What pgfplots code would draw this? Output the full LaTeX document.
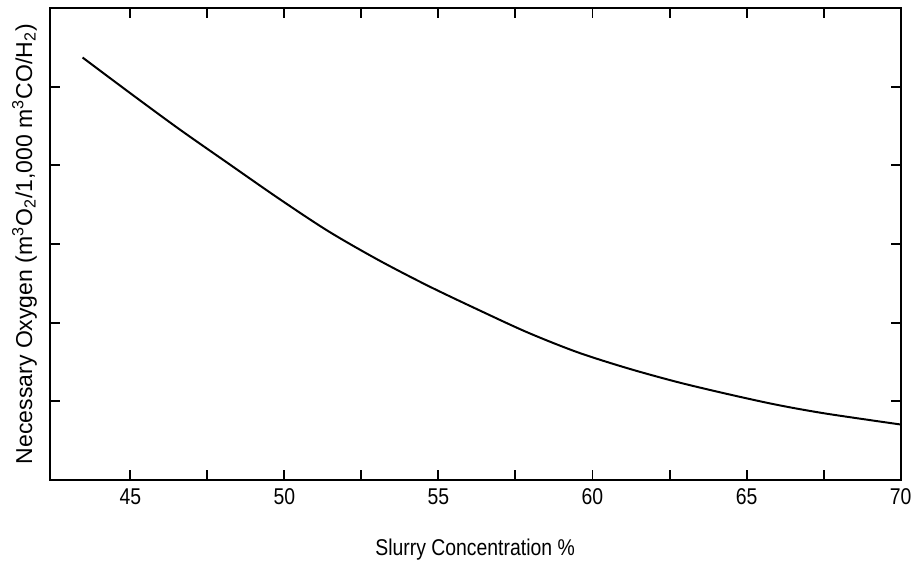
\documentclass[border=0pt]{standalone}
\usepackage{pgfplots}
\pgfplotsset{compat=1.18}
\usepackage{fontspec}
\setmainfont[FakeStretch=0.85]{Liberation Sans}
\newfontfamily\ylabfont{Liberation Sans}

\begin{document}
\begin{tikzpicture}
\begin{axis}[
    name=ax,
    scale only axis,
    width=429pt,
    height=238pt,
    xmin=42.38, xmax=70,
    ymin=0, ymax=6,
    xtick={45,50,...,70},
    minor xtick={47.5,52.5,...,67.5},
    ytick={1,2,3,4,5},
    yticklabels={},
    tick align=inside,
    major tick length=5pt,
    minor tick length=5pt,
    tick style={line width=1pt, black},
    axis line style={line width=1pt},
    every tick label/.append style={font=\fontsize{11.5}{13}\selectfont},
    /pgf/number format/assume math mode=true,
    xticklabel style={yshift=-1pt},
    xlabel={Slurry Concentration \%},
    xlabel style={font=\fontsize{11.5}{13}\selectfont, yshift=-10pt},
    ylabel={Necessary Oxygen (m\textsuperscript{3}O\textsubscript{2}/1,000 m\textsuperscript{3}CO/H\textsubscript{2})},
    ylabel style={font=\ylabfont\fontsize{11.6}{13}\selectfont, yshift=-4pt},
]
\addplot[smooth, line width=1pt, black] coordinates {
    (43.45,5.370) (45.00,4.916) (46.58,4.462) (48.19,4.021) (49.81,3.580)
    (51.42,3.164) (53.04,2.799) (54.65,2.471) (56.27,2.168) (57.88,1.878)
    (59.50,1.626) (61.11,1.424) (62.73,1.248) (64.34,1.097) (65.96,0.958)
    (67.57,0.845) (70.0,0.706)
};
\end{axis}
\path[use as bounding box] ([xshift=-25pt,yshift=-41.5pt]ax.south west) rectangle ([xshift=5pt,yshift=4pt]ax.north east);
\end{tikzpicture}
\end{document}
